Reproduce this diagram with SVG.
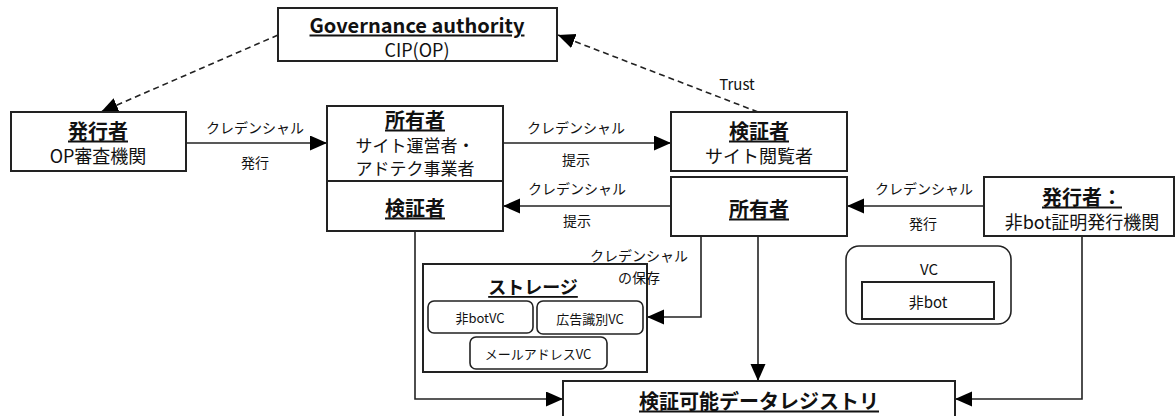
<svg xmlns="http://www.w3.org/2000/svg" width="1176" height="416" viewBox="0 0 1176 416">
<defs>
<style>
.box{fill:#fff;stroke:#222;stroke-width:2}
.rbox{fill:#fff;stroke:#222;stroke-width:1.6}
.t{font-family:"Noto Sans CJK JP","Noto Sans",sans-serif;fill:#111;text-anchor:middle;dominant-baseline:central}
.b{font-weight:bold;text-decoration:underline;font-size:20px}
.n{font-size:18px}
.s{font-size:14px}
.xs{font-size:13px}
.c{fill:none;stroke:#222;stroke-width:1.6}
.d{fill:none;stroke:#222;stroke-width:1.6;stroke-dasharray:6 4}
</style>
<marker id="ah" markerUnits="userSpaceOnUse" markerWidth="18" markerHeight="16" refX="17" refY="7.5" orient="auto">
<path d="M0,0 L17,7.5 L0,15 z" fill="#000"/>
</marker>
</defs>
<rect width="1176" height="416" fill="#fff"/>

<g id="connectors">
<line class="d" x1="278" y1="35" x2="101" y2="112" marker-end="url(#ah)"/>
<line class="d" x1="758" y1="112" x2="558" y2="35" marker-end="url(#ah)"/>
<text class="t s" x="737" y="83" style="font-size:15px">Trust</text>
<line class="c" x1="186" y1="143" x2="327" y2="143" marker-end="url(#ah)"/>
<text class="t s" x="255" y="127">クレデンシャル</text>
<text class="t s" x="255" y="162">発行</text>
<line class="c" x1="503" y1="143" x2="671" y2="143" marker-end="url(#ah)"/>
<text class="t s" x="576" y="127">クレデンシャル</text>
<text class="t s" x="576" y="159">提示</text>
<line class="c" x1="671" y1="206" x2="503" y2="206" marker-end="url(#ah)"/>
<text class="t s" x="577" y="188">クレデンシャル</text>
<text class="t s" x="577" y="220">提示</text>
<line class="c" x1="984" y1="206" x2="847" y2="206" marker-end="url(#ah)"/>
<text class="t s" x="924" y="188">クレデンシャル</text>
<text class="t s" x="923" y="223">発行</text>
<path class="c" d="M701,236 V317 H647" marker-end="url(#ah)"/>
<path class="c" d="M415,231 V399 H563" marker-end="url(#ah)"/>
<path class="c" d="M758,236 V381" marker-end="url(#ah)"/>
<path class="c" d="M1082,236 V399 H955" marker-end="url(#ah)"/>
</g>

<g id="governance">
<rect class="box" x="278" y="8" width="279" height="53"/>
<text class="t" x="417" y="24" style="font-weight:bold;text-decoration:underline;font-size:20px">Governance authority</text>
<text class="t n" x="417" y="49">CIP(OP)</text>
</g>

<g id="issuer-op">
<rect class="box" x="11" y="112" width="175" height="59"/>
<text class="t b" x="98" y="130">発行者</text>
<text class="t n" x="98" y="155">OP審査機関</text>
</g>

<g id="owner-site">
<rect class="box" x="327" y="106" width="176" height="75"/>
<text class="t b" x="415" y="119">所有者</text>
<text class="t" x="415" y="144" style="font-size:17px">サイト運営者・</text>
<text class="t" x="415" y="167" style="font-size:17px">アドテク事業者</text>
</g>

<g id="verifier-left">
<rect class="box" x="327" y="181" width="176" height="50"/>
<text class="t b" x="415" y="207">検証者</text>
</g>

<g id="verifier-viewer">
<rect class="box" x="671" y="112" width="176" height="59"/>
<text class="t b" x="759" y="130">検証者</text>
<text class="t n" x="759" y="155">サイト閲覧者</text>
</g>

<g id="owner-mid">
<rect class="box" x="671" y="177" width="176" height="59"/>
<text class="t b" x="759" y="208">所有者</text>
</g>

<g id="issuer-nonbot">
<rect class="box" x="984" y="177" width="190" height="59"/>
<text class="t b" x="1082" y="196">発行者：</text>
<text class="t n" x="1082" y="221">非bot証明発行機関</text>
</g>

<g id="vc">
<rect class="rbox" x="846" y="246" width="165" height="78" rx="13"/>
<text class="t" x="929" y="268" style="font-size:15px">VC</text>
<rect class="box" x="862" y="282" width="132" height="37"/>
<text class="t" x="928" y="301" style="font-size:15px">非bot</text>
</g>

<g id="storage">
<rect class="box" x="423" y="264" width="224" height="108"/>
<text class="t" x="533" y="286" style="font-weight:bold;text-decoration:underline;font-size:18px">ストレージ</text>
<rect class="rbox" x="428" y="301" width="105" height="32" rx="6"/>
<text class="t xs" x="480" y="317">非botVC</text>
<rect class="rbox" x="537" y="301" width="106" height="33" rx="6"/>
<text class="t xs" x="590" y="318">広告識別VC</text>
<rect class="rbox" x="470" y="337" width="137" height="32" rx="6"/>
<text class="t xs" x="538" y="353">メールアドレスVC</text>
</g>
<text class="t s" x="639" y="255">クレデンシャル</text>
<text class="t s" x="639" y="277">の保存</text>

<g id="registry">
<rect class="box" x="563" y="381" width="392" height="40"/>
<text class="t b" x="759" y="400">検証可能データレジストリ</text>
</g>
</svg>
